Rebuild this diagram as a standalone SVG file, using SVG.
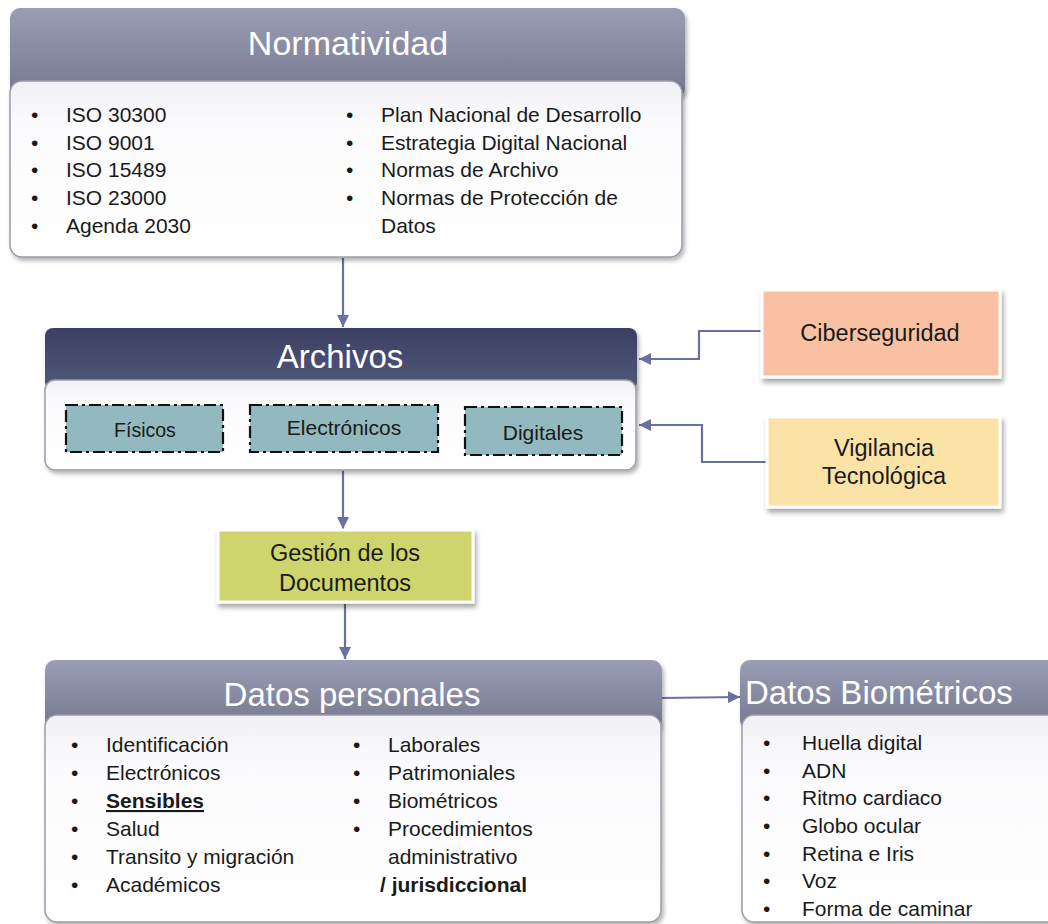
<svg xmlns="http://www.w3.org/2000/svg" width="1048" height="924" viewBox="0 0 1048 924">
<style>
.t{font-family:"Liberation Sans",Arial,sans-serif;fill:#1a1a1a}
.li{font-size:21px}
.hd{font-family:"Liberation Sans",Arial,sans-serif;fill:#ffffff;text-anchor:middle}
.body{fill:url(#bodyG);stroke:#9c9cab;stroke-width:1.5}
.inner{fill:#91b9bf;stroke:#111;stroke-width:2.2;stroke-dasharray:12 4 3 4}
.con{fill:none;stroke:#6b70a2;stroke-width:2.2}
.box{font-family:"Liberation Sans",Arial,sans-serif;font-size:23.5px;fill:#1a1a1a;text-anchor:middle}
</style>
<defs>
<linearGradient id="hdLight" x1="0" y1="0" x2="0" y2="1"><stop offset="0" stop-color="#9b9db4"/><stop offset="1" stop-color="#74778f"/></linearGradient>
<linearGradient id="hdDark" x1="0" y1="0" x2="0" y2="1"><stop offset="0" stop-color="#3b4064"/><stop offset="1" stop-color="#525979"/></linearGradient>
<linearGradient id="bodyG" x1="0" y1="0" x2="0" y2="1"><stop offset="0" stop-color="#f1f1f5"/><stop offset="0.25" stop-color="#fbfbfd"/><stop offset="1" stop-color="#ffffff"/></linearGradient>
<filter id="sh" x="-10%" y="-10%" width="125%" height="130%"><feDropShadow dx="2" dy="4" stdDeviation="2.5" flood-color="#000" flood-opacity="0.35"/></filter>
<filter id="sh2" x="-10%" y="-10%" width="125%" height="130%"><feDropShadow dx="2" dy="3" stdDeviation="2" flood-color="#000" flood-opacity="0.3"/></filter>
<marker id="arr" viewBox="0 0 12 12" refX="12" refY="6" markerWidth="12" markerHeight="12" markerUnits="userSpaceOnUse" orient="auto"><path d="M0,0 L12,6 L0,12 Z" fill="#6b70a2"/></marker>
</defs>

<g id="connectors">
<line class="con" x1="343" y1="258" x2="343" y2="327" marker-end="url(#arr)"/>
<line class="con" x1="343" y1="471" x2="343" y2="529" marker-end="url(#arr)"/>
<line class="con" x1="345" y1="604" x2="345" y2="659" marker-end="url(#arr)"/>
<polyline class="con" points="762,331 699,331 699,359 639,359" marker-end="url(#arr)"/>
<polyline class="con" points="767,462 702,462 702,425 639,425" marker-end="url(#arr)"/>
<line class="con" x1="661" y1="698" x2="740" y2="697" marker-end="url(#arr)"/>
</g>

<g id="normatividad">
<rect x="10" y="8" width="675" height="90" rx="10" fill="url(#hdLight)" filter="url(#sh2)"/>
<text class="hd" x="348" y="55" font-size="34">Normatividad</text>
<rect class="body" x="10" y="81" width="672" height="176" rx="12" filter="url(#sh2)"/>
<g class="t li">
<text x="31" y="122">•</text><text x="66" y="122">ISO 30300</text>
<text x="31" y="150">•</text><text x="66" y="150">ISO 9001</text>
<text x="31" y="177">•</text><text x="66" y="177">ISO 15489</text>
<text x="31" y="205">•</text><text x="66" y="205">ISO 23000</text>
<text x="31" y="233">•</text><text x="66" y="233">Agenda 2030</text>
<text x="346" y="122">•</text><text x="381" y="122">Plan Nacional de Desarrollo</text>
<text x="346" y="150">•</text><text x="381" y="150">Estrategia Digital Nacional</text>
<text x="346" y="177">•</text><text x="381" y="177">Normas de Archivo</text>
<text x="346" y="205">•</text><text x="381" y="205">Normas de Protección de</text>
<text x="381" y="233">Datos</text>
</g>
</g>

<g id="archivos">
<rect x="45" y="328" width="592" height="62" rx="8" fill="url(#hdDark)" filter="url(#sh2)"/>
<text class="hd" x="340" y="368" font-size="33">Archivos</text>
<rect class="body" x="45" y="380" width="591" height="90" rx="10" filter="url(#sh2)"/>
</g>
<g id="fisicos">
<rect class="inner" x="66" y="405" width="157" height="47"/>
<text class="t" x="145" y="437" font-size="19.5" text-anchor="middle">Físicos</text>
</g>
<g id="electronicos">
<rect class="inner" x="250" y="405" width="188" height="47"/>
<text class="t" x="344" y="435" font-size="21" text-anchor="middle">Electrónicos</text>
</g>
<g id="digitales">
<rect class="inner" x="465" y="407" width="157" height="48"/>
<text class="t" x="543" y="440" font-size="21" text-anchor="middle">Digitales</text>
</g>

<g id="ciberseguridad">
<rect x="762" y="290" width="238" height="87" fill="#f9c1a1" stroke="#ffffff" stroke-width="3" filter="url(#sh)"/>
<text class="box" x="880" y="341">Ciberseguridad</text>
</g>

<g id="vigilancia">
<rect x="767" y="417" width="233" height="90" fill="#fbe3a8" stroke="#ffffff" stroke-width="3" filter="url(#sh)"/>
<text class="box" x="884" y="456">Vigilancia</text>
<text class="box" x="884" y="484">Tecnológica</text>
</g>

<g id="gestion">
<rect x="218" y="530" width="255" height="72" fill="#cdd56c" stroke="#ffffff" stroke-width="3" filter="url(#sh)"/>
<text class="box" x="345" y="561" font-size="22">Gestión de los</text>
<text class="box" x="345" y="591" font-size="22">Documentos</text>
</g>

<g id="datos-personales">
<rect x="45" y="660" width="617" height="70" rx="10" fill="url(#hdLight)" filter="url(#sh2)"/>
<text class="hd" x="352" y="706" font-size="33">Datos personales</text>
<rect class="body" x="45" y="715" width="616" height="207" rx="12" filter="url(#sh2)"/>
<g class="t li">
<text x="71" y="752">•</text><text x="106" y="752">Identificación</text>
<text x="71" y="780">•</text><text x="106" y="780">Electrónicos</text>
<text x="71" y="808">•</text><text x="106" y="808" font-weight="bold" text-decoration="underline">Sensibles</text>
<text x="71" y="836">•</text><text x="106" y="836">Salud</text>
<text x="71" y="864">•</text><text x="106" y="864">Transito y migración</text>
<text x="71" y="892">•</text><text x="106" y="892">Académicos</text>
<text x="353" y="752">•</text><text x="388" y="752">Laborales</text>
<text x="353" y="780">•</text><text x="388" y="780">Patrimoniales</text>
<text x="353" y="808">•</text><text x="388" y="808">Biométricos</text>
<text x="353" y="836">•</text><text x="388" y="836">Procedimientos</text>
<text x="388" y="864">administrativo</text>
<text x="380" y="892" font-weight="bold">/ jurisdiccional</text>
</g>
</g>

<g id="datos-biometricos">
<rect x="740" y="660" width="320" height="70" rx="10" fill="url(#hdLight)" filter="url(#sh2)"/>
<text class="hd" x="745" y="704" font-size="33" style="text-anchor:start">Datos Biométricos</text>
<rect class="body" x="742" y="715" width="320" height="207" rx="12" filter="url(#sh2)"/>
<g class="t li">
<text x="763" y="750">•</text><text x="802" y="750">Huella digital</text>
<text x="763" y="778">•</text><text x="802" y="778">ADN</text>
<text x="763" y="805">•</text><text x="802" y="805">Ritmo cardiaco</text>
<text x="763" y="833">•</text><text x="802" y="833">Globo ocular</text>
<text x="763" y="861">•</text><text x="802" y="861">Retina e Iris</text>
<text x="763" y="888">•</text><text x="802" y="888">Voz</text>
<text x="763" y="916">•</text><text x="802" y="916">Forma de caminar</text>
</g>
</g>
</svg>
